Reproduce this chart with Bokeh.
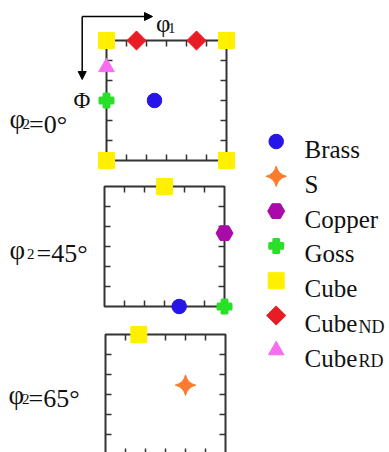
import numpy as np
from bokeh.plotting import figure
from bokeh.models import Range1d, Arrow, NormalHead, ColumnDataSource
from bokeh.layouts import row, column
from bokeh.core.properties import value
from bokeh.embed import file_html
from bokeh.resources import INLINE

FONT = "Liberation Serif"

# ---- data -------------------------------------------------------------
comp_names = ["Brass", "S", "Copper", "Goss", "Cube", "CubeND", "CubeRD"]
comp_colors = ["#2614e8", "#fb7b2e", "#aa0aaa", "#28e028", "#fff000", "#e81c24", "#f86cf0"]
comp_markers = ["circle", "square_pin", "hex", "plus", "square", "square", "triangle"]
comp_sizes = [14.5, 14.5, 17, 13, 16, 13.5, 15.5]
comp_angles = [0, 45, 0, 0, 0, 45, 0]
comp_lw = [1, 1, 1, 3, 1, 1, 1]

phi2_sections = [0, 45, 65]

sec0_comp = ["Cube", "Cube", "Cube", "Cube", "CubeND", "CubeND", "CubeRD", "Goss", "Brass"]
sec0_phi1 = [0, 90, 0, 90, 22.5, 67.5, 0, 0, 36]
sec0_Phi = [0, 0, 90, 90, 0, 0, 20, 45, 45]

sec45_comp = ["Cube", "Copper", "Brass", "Goss"]
sec45_phi1 = [45, 90, 56, 90]
sec45_Phi = [0, 35, 90, 90]

sec65_comp = ["Cube", "S"]
sec65_phi1 = [25, 60]
sec65_Phi = [0, 38]

tick_values = [15, 30, 45, 60, 75]
angle_max = 90

# ---- helpers ----------------------------------------------------------
S = 0.75  # degrees per pixel
COL_W = 250


def make_panel(height, left_px, top_px, comps, phi1s, Phis):
    p = figure(width=COL_W, height=height,
               x_range=Range1d(-left_px * S, (COL_W - left_px) * S),
               y_range=Range1d((height - top_px) * S, -top_px * S),
               output_backend="svg", toolbar_location=None,
               x_axis_location=None, y_axis_location=None,
               min_border=0, outline_line_color=None)
    p.grid.visible = False
    # frame box
    p.quad(left=[0], right=[angle_max], top=[0], bottom=[angle_max],
           fill_color=None, line_color="#333333", line_width=2)
    # inward ticks
    L = 4.5
    t = tick_values
    n = len(t)
    x0 = t + t + [0] * n + [angle_max] * n
    x1 = t + t + [L] * n + [angle_max - L] * n
    y0 = [angle_max] * n + [0] * n + t + t
    y1 = [angle_max - L] * n + [L] * n + t + t
    p.segment(x0=x0, y0=y0, x1=x1, y1=y1, line_color="#333333", line_width=1.5)
    idx = [comp_names.index(c) for c in comps]
    src = ColumnDataSource(dict(
        x=phi1s, y=Phis,
        marker=[comp_markers[i] for i in idx],
        size=[comp_sizes[i] for i in idx],
        color=[comp_colors[i] for i in idx],
        angle=[np.deg2rad(comp_angles[i]) for i in idx],
        lw=[comp_lw[i] for i in idx],
    ))
    p.scatter(x="x", y="y", marker="marker", size="size", fill_color="color",
              line_color="color", line_width="lw", angle="angle",
              line_join="round", source=src)

    def X(px):
        return (px - left_px) * S

    def Y(py):
        return (py - top_px) * S

    return p, X, Y


def txt(p, x, y, s, size, align="left"):
    p.text(x=[x], y=[y], text=[s], text_font=value(FONT),
           text_font_size=value(size), text_color="#111111",
           text_align=align, text_baseline="alphabetic")


def section_label(p, X, Y, phi2, xs, phi_base, base, sub_base):
    txt(p, X(xs[0]), Y(phi_base), "φ", "27px")
    txt(p, X(xs[1]), Y(sub_base), "2", "15px")
    txt(p, X(xs[2]), Y(base), "=%d°" % phi2, "26px")


# ---- panels -----------------------------------------------------------
p1, X1, Y1 = make_panel(172, 106, 40, sec0_comp, sec0_phi1, sec0_Phi)
section_label(p1, X1, Y1, phi2_sections[0], [9, 22, 28.5], 118, 124, 123)
head = dict(size=8, fill_color="black", line_color="black")
p1.add_layout(Arrow(end=NormalHead(**head), x_start=X1(81.7), y_start=Y1(16),
                    x_end=X1(152), y_end=Y1(16), line_width=1.5, line_color="black"))
p1.add_layout(Arrow(end=NormalHead(**head), x_start=X1(81.7), y_start=Y1(16),
                    x_end=X1(81.7), y_end=Y1(79), line_width=1.5, line_color="black"))
txt(p1, X1(155.5), Y1(23), "φ", "25px")
txt(p1, X1(167.5), Y1(27), "1", "15px")
txt(p1, X1(81.5), Y1(100), "Φ", "23px", align="center")

p2, X2, Y2 = make_panel(148, 104, 14, sec45_comp, sec45_phi1, sec45_Phi)
section_label(p2, X2, Y2, phi2_sections[1], [9, 26.5, 36], 249.5 - 172, 253 - 172, 253 - 172)

p3, X3, Y3 = make_panel(132, 105, 14, sec65_comp, sec65_phi1, sec65_Phi)
section_label(p3, X3, Y3, phi2_sections[2], [8, 21.5, 28], 394.5 - 320, 398 - 320, 398 - 320)

# ---- legend -----------------------------------------------------------
pl = figure(width=139, height=452, x_range=Range1d(0, 139), y_range=Range1d(452, 0),
            output_backend="svg", toolbar_location=None,
            x_axis_location=None, y_axis_location=None,
            min_border=0, outline_line_color=None)
pl.grid.visible = False
row_y = [141 + 34.8 * i for i in range(len(comp_names))]
lsrc = ColumnDataSource(dict(
    x=[25.7] * len(comp_names), y=row_y, marker=comp_markers,
    size=comp_sizes, color=comp_colors,
    angle=[np.deg2rad(a) for a in comp_angles], lw=comp_lw))
pl.scatter(x="x", y="y", marker="marker", size="size", fill_color="color",
           line_color="color", line_width="lw", angle="angle",
           line_join="round", source=lsrc)
for name, yy in zip(comp_names, row_y):
    if name.startswith("Cube") and len(name) > 4:
        txt(pl, 54, yy + 8, name[:4], "25px")
        txt(pl, 108, yy + 11, name[4:], "18px")
    else:
        txt(pl, 54, yy + 8, name, "25px")

layout = row(column(p1, p2, p3), pl)
open("out.html", "w").write(file_html(layout, INLINE))
